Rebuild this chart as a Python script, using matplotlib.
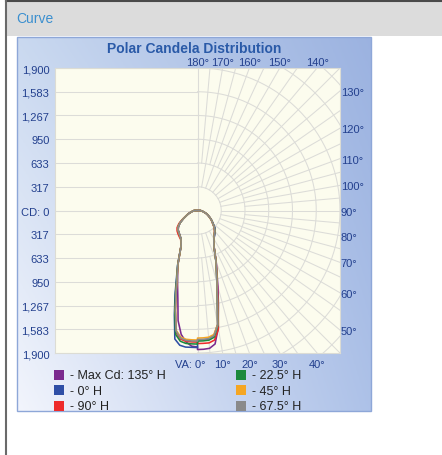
import matplotlib
matplotlib.use("Agg")
import matplotlib.pyplot as plt
import matplotlib.patches as mpatches
import numpy as np

plt.rcParams['font.family'] = ['Liberation Sans', 'DejaVu Sans']

# -----------------------------
# Data
# -----------------------------
vertical_angles = [0, 2.5, 5, 7.5, 10, 12.5, 15, 17.5, 20, 25, 30, 35, 40,
                   45, 50, 55, 60, 65, 70, 75, 80, 85, 90]

series_names = ["- Max Cd: 135° H", "- 0° H", "- 90° H", "- 22.5° H", "- 45° H", "- 67.5° H"]
series_colors = ["#7b2a8e", "#2f4fa6", "#ee2b2b", "#1c8a3c", "#f5a623", "#8a8a8a"]

# candela in the H plane (right half)
cd_max_135_right = [1854, 1852, 1845, 1795, 1592, 1289, 1053, 860, 730, 520, 440, 395, 362,
                    322, 270, 232, 194, 158, 130, 96, 72, 52, 40]
cd_0_right = [1727, 1726, 1722, 1685, 1540, 1215, 1000, 838, 718, 514, 438, 398, 367,
              330, 275, 234, 194, 158, 130, 96, 72, 52, 40]
cd_90_right = [1774, 1773, 1772, 1742, 1606, 1258, 1020, 850, 725, 516, 434, 388, 352,
               310, 260, 225, 189, 156, 129, 96, 72, 52, 40]
cd_22_right = [1741, 1740, 1736, 1704, 1560, 1228, 1005, 842, 720, 516, 436, 392, 358,
               318, 266, 229, 192, 157, 130, 96, 72, 52, 40]
cd_45_right = [1701, 1700, 1696, 1668, 1545, 1228, 1002, 840, 720, 516, 436, 391, 357,
               316, 264, 228, 191, 157, 130, 96, 72, 52, 40]
cd_67_right = [1721, 1720, 1716, 1684, 1555, 1228, 1002, 840, 720, 516, 436, 391, 357,
               316, 264, 228, 191, 157, 130, 96, 72, 52, 40]

# candela in the opposite plane, H + 180 (left half)
cd_max_135_left = [1820, 1810, 1759, 1666, 1491, 1210, 1027, 880, 760, 515, 438, 406, 384,
                   364, 330, 280, 215, 163, 129, 96, 72, 52, 40]
cd_0_left = [1827, 1826, 1828, 1812, 1740, 1425, 1156, 928, 777, 518, 440, 408, 385,
             366, 332, 281, 216, 164, 130, 96, 72, 52, 40]
cd_90_left = [1755, 1754, 1752, 1730, 1650, 1370, 1100, 900, 765, 520, 448, 425, 405,
              385, 355, 302, 228, 170, 132, 97, 72, 52, 40]
cd_22_left = [1781, 1780, 1779, 1758, 1678, 1400, 1130, 910, 770, 516, 440, 410, 387,
              369, 335, 284, 218, 165, 130, 96, 72, 52, 40]
cd_45_left = [1727, 1726, 1724, 1704, 1625, 1355, 1090, 895, 762, 516, 440, 410, 387,
              369, 335, 284, 218, 165, 130, 96, 72, 52, 40]
cd_67_left = [1741, 1741, 1739, 1717, 1635, 1362, 1093, 897, 763, 516, 440, 410, 387,
              369, 335, 284, 218, 165, 130, 96, 72, 52, 40]

right_sets = [cd_max_135_right, cd_0_right, cd_90_right, cd_22_right, cd_45_right, cd_67_right]
left_sets = [cd_max_135_left, cd_0_left, cd_90_left, cd_22_left, cd_45_left, cd_67_left]

cd_max = 1900
cd_tick_values = [1900, 1583, 1267, 950, 633, 317]
top_angles = [180, 170, 160, 150, 140]
right_angles = [130, 120, 110, 100, 90, 80, 70, 60, 50]
bottom_angles = [10, 20, 30, 40]

# -----------------------------
# Figure and frame
# -----------------------------
W, H = 442, 456
fig = plt.figure(figsize=(W / 100, H / 100), dpi=100)
fig.patch.set_facecolor("white")

bg = fig.add_axes([0, 0, 1, 1])
bg.set_xlim(0, W)
bg.set_ylim(H, 0)
bg.axis("off")

# header bar
bg.add_patch(mpatches.Rectangle((6, 2), W - 6, 35, facecolor="#dcdcdc", edgecolor="none"))
bg.plot([6, W], [1.5, 1.5], color="#4a4a4a", lw=1.5)
bg.plot([6, 6], [0, H], color="#6a6a6a", lw=1.5)
bg.text(16, 19, "Curve", color="#3b8fcf", fontsize=10, va="center", ha="left")

# blue gradient panel
px0, px1, py0, py1 = 17, 371, 38, 412
tl = np.array([0.79, 0.85, 0.94])
tr = np.array([0.61, 0.70, 0.88])
bl = np.array([0.95, 0.96, 0.99])
br = np.array([0.68, 0.76, 0.91])
u = np.linspace(0, 1, 120)[None, :, None]
v = np.linspace(0, 1, 120)[:, None, None]
grad = (1 - v) * ((1 - u) * tl + u * tr) + v * ((1 - u) * bl + u * br)
bg.imshow(grad, extent=[px0, px1, py1, py0], aspect="auto", zorder=0)
bg.add_patch(mpatches.Rectangle((px0, py0), px1 - px0, py1 - py0, facecolor="none",
                                edgecolor="#8ea7d8", lw=1, zorder=1))
bg.text(194, 49, "Polar Candela Distribution", color="#2a5aa8", fontsize=10,
        fontweight="bold", ha="center", va="center", zorder=2)

# legend (manual, two columns)
for i, (name, color) in enumerate(zip(series_names, series_colors)):
    col, row = divmod(i, 3)
    x = 54 if col == 0 else 236
    y = 376 + row * 15.3
    bg.add_patch(mpatches.Rectangle((x, y - 5), 10, 10, facecolor=color, edgecolor="none", zorder=2))
    bg.text(x + 16, y + 0.5, name, color="#222222", fontsize=9, va="center", ha="left", zorder=2)

# -----------------------------
# Polar plot area
# -----------------------------
ax = fig.add_axes([55 / W, (H - 354) / H, 285 / W, 285 / H])
ax.set_xlim(-cd_max, cd_max)
ax.set_ylim(-cd_max, cd_max)
ax.set_facecolor("#fcfcee")
for s in ax.spines.values():
    s.set_color("#dcdcd4")
    s.set_linewidth(0.8)

grid_kw = dict(color="#dcdcd8", lw=0.75, zorder=1)

# left half: horizontal lines
for c in cd_tick_values + [0]:
    for sgn in (1, -1):
        ax.plot([-cd_max, 0], [sgn * c, sgn * c], **grid_kw)

# right half: circles
step = cd_max / 6
t = np.linspace(-np.pi / 2, np.pi / 2, 200)
for k in range(1, 9):
    r = k * step
    ax.plot(r * np.cos(t), r * np.sin(t), **grid_kw)

# right half: radial lines, 10 deg from first ring, 5 deg from second ring
for a in range(0, 181, 5):
    ang = np.radians(a)
    r0 = step if a % 10 == 0 else 2 * step
    r1 = 3000
    ax.plot([r0 * np.sin(ang), r1 * np.sin(ang)],
            [-r0 * np.cos(ang), -r1 * np.cos(ang)], **grid_kw)
ax.plot([0, 0], [-cd_max, cd_max], **grid_kw)

# curves
va = np.radians(vertical_angles)
for right, left, color in zip(right_sets, left_sets, series_colors):
    right = np.array(right)
    left = np.array(left)
    xr = right * np.sin(va)
    yr = -right * np.cos(va)
    xl = -left[::-1] * np.sin(va[::-1])
    yl = -left[::-1] * np.cos(va[::-1])
    xs = np.concatenate([xl, xr, xl[:1]])
    ys = np.concatenate([yl, yr, yl[:1]])
    ax.plot(xs, ys, color=color, lw=1.15, zorder=3, solid_joinstyle="round")

# -----------------------------
# Axis labels
# -----------------------------
label_color = "#23408e"
yt = [c for c in cd_tick_values] + [0] + [-c for c in cd_tick_values[::-1]]
ylab = [f"{c:,}" for c in cd_tick_values] + ["CD: 0"] + [f"{c:,}" for c in cd_tick_values[::-1]]
ax.set_yticks(yt)
ax.set_yticklabels(ylab)
ax.tick_params(axis="y", length=0, pad=4, labelsize=8, labelcolor=label_color)

ax.set_xticks([cd_max * np.tan(np.radians(a)) for a in bottom_angles])
ax.set_xticklabels([f"{a}°" for a in bottom_angles])
ax.tick_params(axis="x", length=0, pad=4, labelsize=8, labelcolor=label_color)
ax.annotate("VA: 0°", xy=(0, -cd_max), xytext=(6, -4), textcoords="offset points",
            ha="right", va="top", fontsize=8, color=label_color, annotation_clip=False)

top = ax.secondary_xaxis("top")
top.set_xticks([cd_max * np.tan(np.radians(180 - a)) for a in top_angles])
top.set_xticklabels([f"{a}°" for a in top_angles])
top.tick_params(length=0, pad=1, labelsize=8, labelcolor=label_color)
top.spines["top"].set_visible(False)

right_ax = ax.secondary_yaxis("right")
right_ax.set_yticks([-cd_max / np.tan(np.radians(a)) for a in right_angles])
right_ax.set_yticklabels([f"{a}°" for a in right_angles])
right_ax.tick_params(length=0, pad=0.5, labelsize=8, labelcolor=label_color)
right_ax.spines["right"].set_visible(False)

fig.savefig("out.png", dpi=100)
